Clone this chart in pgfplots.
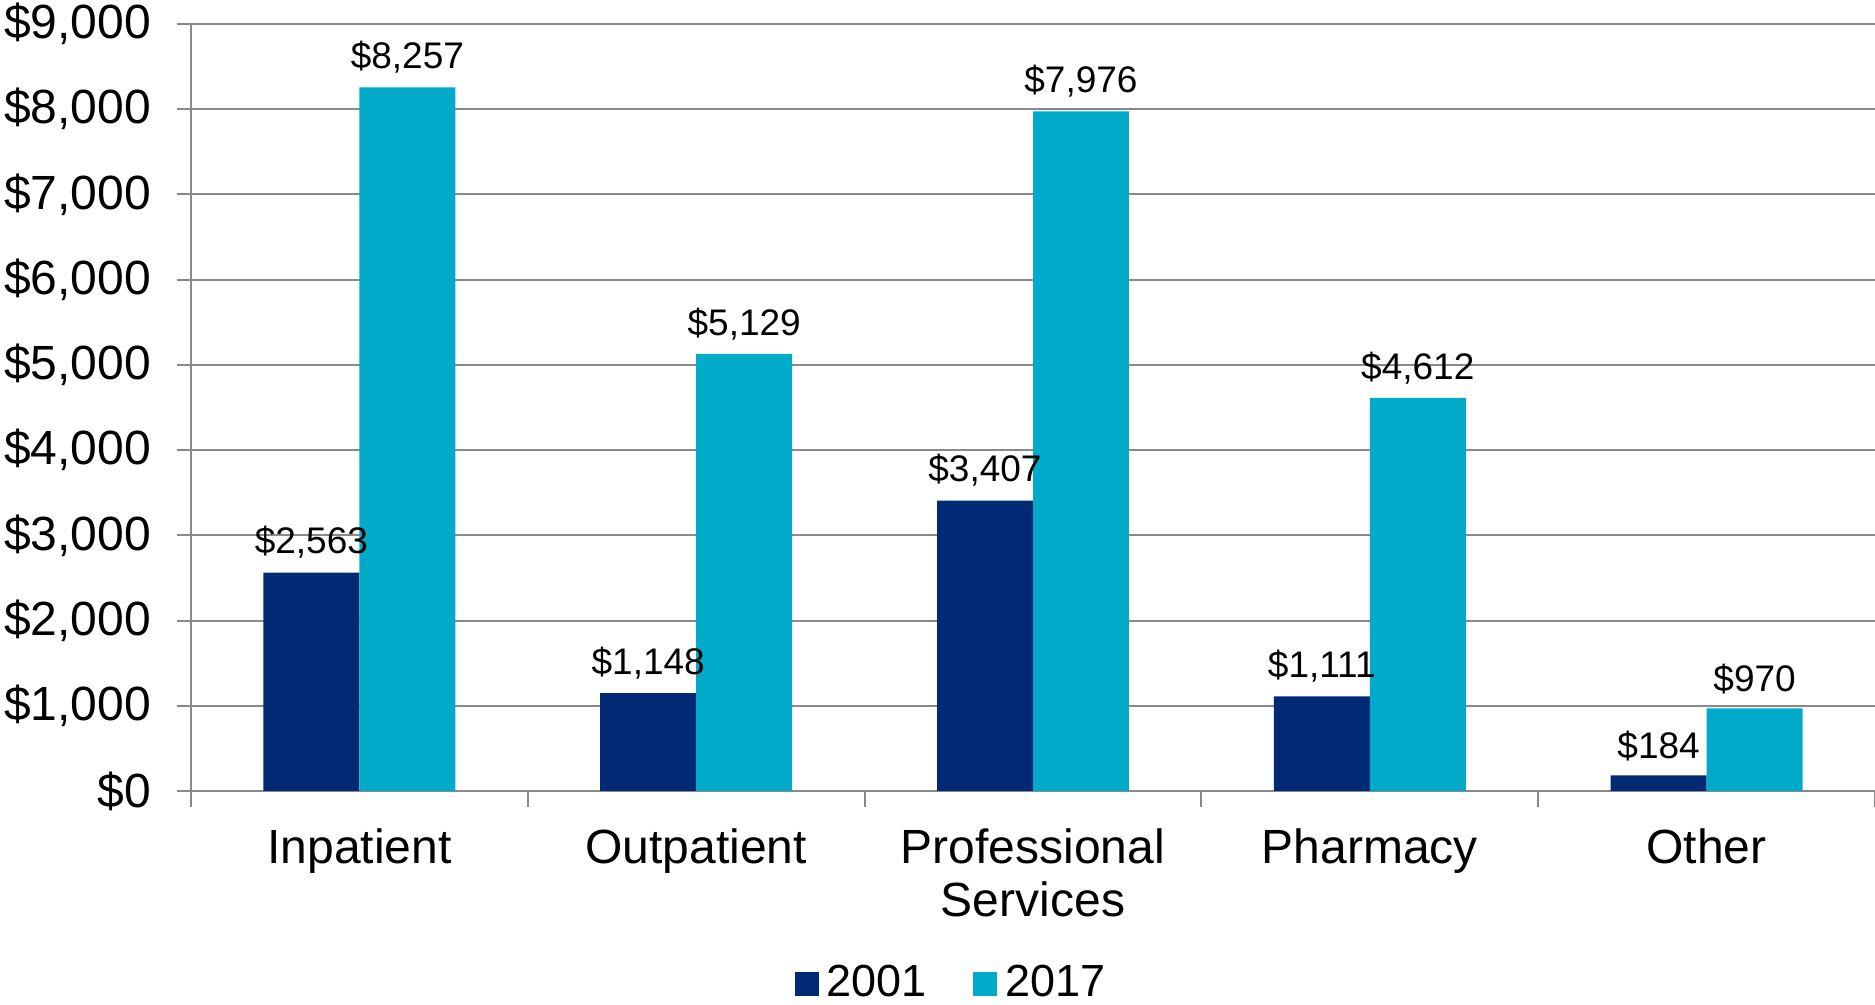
\documentclass[border=0pt]{standalone}
\usepackage{pgfplots}
\pgfplotsset{compat=1.18}
\usepackage{fontspec}
\setmainfont{Liberation Sans}
\definecolor{navy}{RGB}{0,42,116}
\definecolor{teal2}{RGB}{0,170,200}
\definecolor{gridgray}{RGB}{137,137,137}
\begin{document}
\begin{tikzpicture}
\useasboundingbox (-47.75pt,-53.5pt) rectangle (421pt,197.75pt);
\begin{axis}[
  scale only axis, width=421pt, height=191.75pt,
  ybar=0pt, bar width=0.285,
  xmin=-0.5, xmax=4.5, ymin=0, ymax=9000,
  axis x line*=bottom, axis y line*=left,
  axis line style={draw=gridgray, line width=0.5pt},
  ymajorgrids, grid style={draw=gridgray, line width=0.5pt},
  tick align=outside,
  xtick={0,1,2,3,4},
  xticklabels={Inpatient,Outpatient,{Professional\\Services},Pharmacy,Other},
  xticklabel style={align=center, font=\fontsize{12}{13.3}\selectfont, yshift=-2.4pt},
  major x tick style={draw=none},
  minor xtick={-0.5,0.5,1.5,2.5,3.5,4.5},
  minor x tick style={draw=gridgray, line width=0.5pt},
  minor tick length=4pt,
  major tick length=3.5pt,
  ytick={0,1000,...,9000},
  y tick style={draw=gridgray, line width=0.5pt},
  yticklabel={\$\pgfmathprintnumber{\tick}},
  yticklabel style={font=\fontsize{12}{14}\selectfont, xshift=-3pt},
  /pgf/number format/.cd, fixed, precision=0, 1000 sep={,}, assume math mode=true,
  /pgfplots/.cd,
  nodes near coords={\$\pgfmathprintnumber{\pgfplotspointmeta}},
  nodes near coords style={font=\fontsize{9.25}{11}\selectfont, text=black},
  legend style={draw=none, at={(0.453,-0.251)}, anchor=center,
    legend columns=2, font=\fontsize{11.25}{13}\selectfont,
    /tikz/every even column/.append style={column sep=9.6pt}},
  legend image code/.code={\fill[#1] (0pt,-3pt) rectangle (6pt,3pt);},
]
\addplot[fill=navy, draw=none] coordinates {(0,2563) (1,1148) (2,3407) (3,1111) (4,184)};
\addplot[fill=teal2, draw=none] coordinates {(0,8257) (1,5129) (2,7976) (3,4612) (4,970)};
\legend{2001,2017}
\end{axis}
\end{tikzpicture}
\end{document}
